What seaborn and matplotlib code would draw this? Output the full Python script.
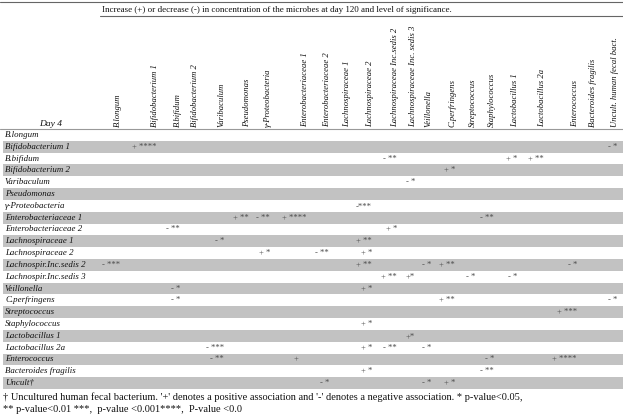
import numpy as np
import seaborn as sns
import matplotlib.pyplot as plt
from matplotlib.colors import ListedColormap
from matplotlib.transforms import blended_transform_factory

# row and column names of the table
rows = ["B.longum", "Bifidobacterium 1", "B.bifidum", "Bifidobacterium 2", "Varibaculum",
        "Pseudomonas", "γ-Proteobacteria", "Enterobacteriaceae 1", "Enterobacteriaceae 2",
        "Lachnospiraceae 1", "Lachnospiraceae 2", "Lachnospir.Inc.sedis 2",
        "Lachnospir.Inc.sedis 3", "Veillonella", "C.perfringens", "Streptococcus",
        "Staphylococcus", "Lactobacillus 1", "Lactobacillus 2a", "Enterococcus",
        "Bacteroides fragilis", "Uncult†"]

cols = ["B.longum", "Bifidobacterium 1", "B.bifidum", "Bifidobacterium 2", "Varibaculum",
        "Pseudomonas", "γ-Proteobacteria", "Enterobacteriaceae 1", "Enterobacteriaceae 2",
        "Lachnospiraceae 1", "Lachnospiraceae 2", "Lachnospiraceae Inc.sedis 2",
        "Lachnospiraceae Inc. sedis 3", "Veillonella", "C.perfringens", "Streptococcus",
        "Staphylococcus", "Lactobacillus 1", "Lactobacillus 2a", "Enterococcus",
        "Bacteroides fragilis", "Uncult. human fecal bact."]

# significant associations: row index, column index, sign + stars
entry_row = [1, 1,
             2, 2, 2,
             3,
             4,
             6,
             7, 7, 7, 7,
             8, 8,
             9, 9,
             10, 10, 10,
             11, 11, 11, 11, 11,
             12, 12, 12, 12,
             13, 13,
             14, 14, 14,
             15,
             16,
             17,
             18, 18, 18, 18,
             19, 19, 19, 19,
             20, 20,
             21, 21, 21]
entry_col = [1, 21,
             11, 17, 18,
             14,
             12,
             10,
             5, 6, 7, 16,
             2, 11,
             4, 10,
             6, 8, 10,
             0, 10, 13, 14, 19,
             11, 12, 15, 17,
             2, 10,
             2, 14, 21,
             19,
             10,
             12,
             4, 10, 11, 13,
             4, 7, 16, 19,
             10, 16,
             8, 13, 14]
entry_txt = ["+ ****", "- *",
             "- **", "+ *", "+ **",
             "+ *",
             "- *",
             "-***",
             "+ **", "- **", "+ ****", "- **",
             "- **", "+ *",
             "- *", "+ **",
             "+ *", "- **", "+ *",
             "- ***", "+ **", "- *", "+ **", "- *",
             "+ **", "+*", "- *", "- *",
             "- *", "+ *",
             "- *", "+ **", "- *",
             "+ ***",
             "+ *",
             "+*",
             "- ***", "+ *", "- **", "- *",
             "- **", "+    ", "- *", "+ ****",
             "+ *", "- **",
             "- *", "- *", "+ *"]

title = "Increase (+) or decrease (-) in concentration of the microbes at day 120 and level of significance."
foot1 = "† Uncultured human fecal bacterium. '+' denotes a positive association and '-' denotes a negative association. * p-value<0.05,"
foot2 = "** p-value<0.01 ***,  p-value <0.001****,  P-value <0.0"

# layout (pixels in a 623x416 canvas)
W, H = 623, 416
col_x = [118, 155, 178, 195, 222, 247, 268, 305, 327, 347, 370, 395, 413, 429,
         453, 473, 492, 515, 542, 575, 593, 615]
tab_left, tab_top, tab_bottom = 3, 129, 389
fs = 6.4

sns.set_theme(style="white")
plt.rcParams["font.family"] = ["Liberation Serif", "DejaVu Serif"]

fig = plt.figure(figsize=(W / 100, H / 100), dpi=100)
ax = fig.add_axes([tab_left / W, 1 - tab_bottom / H, (W - tab_left) / W,
                   (tab_bottom - tab_top) / H])

shade = np.array([[i % 2] for i in range(len(rows))])
sns.heatmap(shade, cmap=ListedColormap(["white", "#c2c2c2"]), cbar=False, ax=ax,
            xticklabels=False, yticklabels=False)
ax.set_axis_off()

tr = blended_transform_factory(ax.transAxes, ax.transData)
for i, name in enumerate(rows):
    ax.text(2 / (W - tab_left), i + 0.5, name, transform=tr, ha="left", va="center",
            fontsize=fs, style="italic", color="#111111")

for r, c, t in zip(entry_row, entry_col, entry_txt):
    ax.text((col_x[c] + 2 - tab_left) / (W - tab_left), r + 0.5, t, transform=tr,
            ha="right", va="center", fontsize=fs - 0.2, color="#4a4a4a")

# column header
for x, name in zip(col_x, cols):
    fig.text(x / W, 1 - 127 / H, name, rotation=90, ha="center", va="bottom",
             fontsize=6.2, style="italic", color="#111111")
fig.text(51 / W, 1 - 124 / H, "Day 4", ha="center", va="center", fontsize=fs + 0.4,
         style="italic", color="#111111")
fig.text(102 / W, 1 - 10 / H, title, ha="left", va="center", fontsize=6.5,
         color="#111111")

# rules
fig.add_artist(plt.Line2D([0, 1], [1 - 1.5 / H, 1 - 1.5 / H], color="#666666", lw=0.8))
fig.add_artist(plt.Line2D([100 / W, 1], [1 - 16 / H, 1 - 16 / H], color="#666666", lw=0.8))
fig.add_artist(plt.Line2D([0, 1], [1 - tab_top / H, 1 - tab_top / H], color="#999999", lw=0.8))

fig.text(3 / W, 1 - 397 / H, foot1, ha="left", va="center", fontsize=7.5,
         color="#111111")
fig.text(3 / W, 1 - 409 / H, foot2, ha="left", va="center", fontsize=7.5,
         color="#111111")

fig.savefig("out.png", dpi=100)
